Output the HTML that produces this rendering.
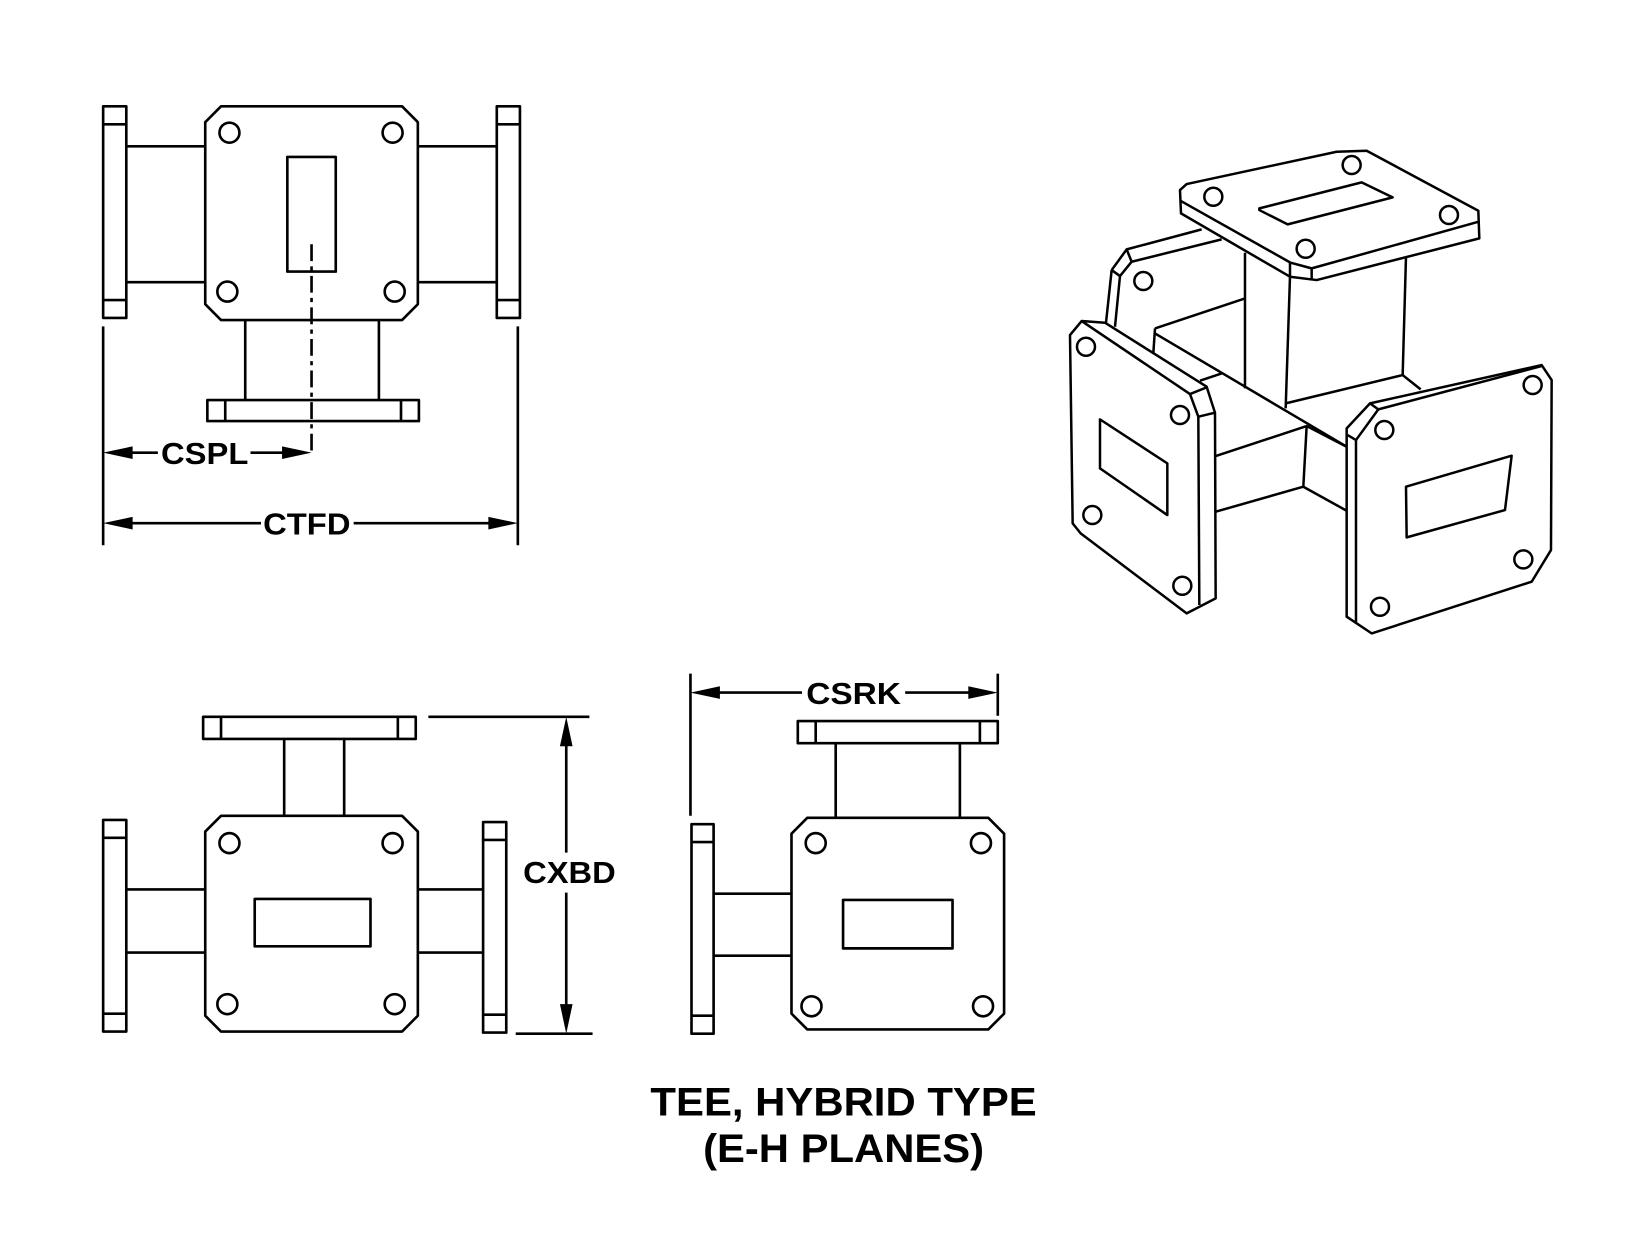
<!DOCTYPE html>
<html><head><meta charset="utf-8"><style>html,body{margin:0;padding:0;background:#fff}svg{display:block}</style></head>
<body>
<svg width="1650" height="1244" viewBox="0 0 1552 1170" xmlns="http://www.w3.org/2000/svg">
<g transform="scale(0.99)">
<g fill="none" stroke="#000" stroke-width="2.5" stroke-linejoin="round">
<!-- top-left view -->
<rect x="98" y="101" width="22" height="201"/><line x1="98" y1="118" x2="120" y2="118"/><line x1="98" y1="285" x2="120" y2="285"/>
<line x1="120" y1="139" x2="195" y2="139"/><line x1="120" y1="268" x2="195" y2="268"/>
<polygon points="210,101 382,101 397,116 397,289 382,304 210,304 195,289 195,116"/>
<circle cx="218" cy="126" r="9.5"/><circle cx="373" cy="126" r="9.5"/><circle cx="216" cy="277" r="9.5"/><circle cx="375" cy="277" r="9.5"/>
<rect x="273" y="149" width="46" height="109"/>
<line x1="296" y1="232" x2="296" y2="432" stroke-dasharray="16,5,4,5"/>
<line x1="397" y1="139" x2="472" y2="139"/><line x1="397" y1="268" x2="472" y2="268"/>
<rect x="472" y="101" width="22" height="201"/><line x1="472" y1="118" x2="494" y2="118"/><line x1="472" y1="285" x2="494" y2="285"/>
<line x1="233" y1="304" x2="233" y2="380"/><line x1="360" y1="304" x2="360" y2="380"/>
<rect x="197" y="380" width="201" height="20"/><line x1="214" y1="380" x2="214" y2="400"/><line x1="381" y1="380" x2="381" y2="400"/>
<line x1="98" y1="310" x2="98" y2="518"/><line x1="492" y1="310" x2="492" y2="518"/>
<line x1="110" y1="430" x2="150" y2="430"/><line x1="238" y1="430" x2="284" y2="430"/>
<line x1="110" y1="497" x2="248" y2="497"/><line x1="336" y1="497" x2="480" y2="497"/>
<!-- bottom-left view -->
<rect x="193" y="681" width="202" height="21"/><line x1="210" y1="681" x2="210" y2="702"/><line x1="378" y1="681" x2="378" y2="702"/>
<line x1="270" y1="702" x2="270" y2="775"/><line x1="327" y1="702" x2="327" y2="775"/>
<polygon points="210,775 382,775 397,790 397,965 382,980 210,980 195,965 195,790"/>
<circle cx="218" cy="801" r="9.5"/><circle cx="373" cy="801" r="9.5"/><circle cx="216" cy="954" r="9.5"/><circle cx="375" cy="954" r="9.5"/>
<rect x="242" y="854" width="110" height="45"/>
<rect x="98" y="779" width="22" height="201"/><line x1="98" y1="796" x2="120" y2="796"/><line x1="98" y1="963" x2="120" y2="963"/>
<line x1="120" y1="845" x2="195" y2="845"/><line x1="120" y1="905" x2="195" y2="905"/>
<rect x="459" y="781" width="22" height="200"/><line x1="459" y1="798" x2="481" y2="798"/><line x1="459" y1="964" x2="481" y2="964"/>
<line x1="397" y1="845" x2="459" y2="845"/><line x1="397" y1="905" x2="459" y2="905"/>
<line x1="407" y1="681" x2="560" y2="681"/><line x1="490" y1="982" x2="563" y2="982"/>
<line x1="538" y1="693" x2="538" y2="810"/><line x1="538" y1="848" x2="538" y2="970"/>
<!-- bottom-middle view -->
<line x1="656" y1="640" x2="656" y2="775"/><line x1="948" y1="640" x2="948" y2="680"/>
<line x1="668" y1="658" x2="762" y2="658"/><line x1="860" y1="658" x2="936" y2="658"/>
<rect x="758" y="685" width="190" height="21"/><line x1="775" y1="685" x2="775" y2="706"/><line x1="931" y1="685" x2="931" y2="706"/>
<line x1="794" y1="706" x2="794" y2="777"/><line x1="912" y1="706" x2="912" y2="777"/>
<polygon points="767,777 939,777 954,792 954,963 939,978 767,978 752,963 752,792"/>
<circle cx="775" cy="801" r="9.5"/><circle cx="932" cy="801" r="9.5"/><circle cx="771" cy="956" r="9.5"/><circle cx="934" cy="956" r="9.5"/>
<rect x="801" y="855" width="104" height="46"/>
<rect x="657" y="783" width="21" height="199"/><line x1="657" y1="800" x2="678" y2="800"/><line x1="657" y1="965" x2="678" y2="965"/>
<line x1="678" y1="849" x2="752" y2="849"/><line x1="678" y1="908" x2="752" y2="908"/>
</g>
<g fill="#000">
<polygon points="98,430 126,424 126,436"/><polygon points="296,430 268,424 268,436"/>
<polygon points="98,497 126,491 126,503"/><polygon points="492,497 464,491 464,503"/>
<polygon points="538,681 532,709 544,709"/><polygon points="538,982 532,954 544,954"/>
<polygon points="656,658 684,652 684,664"/><polygon points="948,658 920,652 920,664"/>
</g>
<g font-family="Liberation Sans, sans-serif" font-weight="bold" fill="#000" font-size="29">
<text x="153" y="441" textLength="83" lengthAdjust="spacingAndGlyphs">CSPL</text>
<text x="250" y="508" textLength="83" lengthAdjust="spacingAndGlyphs">CTFD</text>
<text x="497" y="839" textLength="88" lengthAdjust="spacingAndGlyphs">CXBD</text>
<text x="766" y="669" textLength="90" lengthAdjust="spacingAndGlyphs">CSRK</text>
<text x="618" y="1060" font-size="38" textLength="367" lengthAdjust="spacingAndGlyphs">TEE, HYBRID TYPE</text>
<text x="668" y="1104" font-size="38" textLength="267" lengthAdjust="spacingAndGlyphs">(E-H PLANES)</text>
</g>
</g>
<!-- isometric -->
<g transform="scale(0.9406) translate(1050 140) scale(0.33333)" fill="none" stroke="#000" stroke-width="7.5" stroke-linejoin="round">
<line x1="455" y1="268" x2="230" y2="328"/><polyline points="185,390 230,328 245,365 515,298"/>
<polyline points="185,390 168,548"/><polyline points="210,408 195,560"/><line x1="185" y1="390" x2="210" y2="408"/><line x1="245" y1="365" x2="210" y2="408"/>
<circle cx="280" cy="423" r="27"/>
<polyline points="585,338 585,745"/><polyline points="720,410 707,805"/><polyline points="1068,350 1058,705"/>
<polyline points="707,790 1058,705 1112,748"/>
<polyline points="315,565 585,475"/><polyline points="315,565 310,640"/>
<polyline points="315,580 890,920"/>
<polygon points="390,150 410,132 860,35 950,32 1285,212 1288,295 800,420 720,410 393,220" fill="#fff"/>
<polyline points="393,183 722,368 785,385 1286,245"/>
<line x1="720" y1="368" x2="720" y2="410"/><line x1="785" y1="385" x2="785" y2="418"/>
<polygon points="628,205 935,127 1028,172 713,253 628,210"/>
<circle cx="490" cy="170" r="27"/><circle cx="905" cy="75" r="27"/><circle cx="1197" cy="225" r="27"/><circle cx="767" cy="326" r="27"/>
<polyline points="497,948 770,858 760,1040 497,1115"/><line x1="760" y1="1040" x2="890" y2="1112"/><line x1="770" y1="858" x2="890" y2="920"/>
<line x1="450" y1="722" x2="515" y2="700"/>
<polygon points="95,543 165,548 470,740 495,818 497,1375 410,1420 92,1180 68,1150 60,585" fill="#fff"/>
<polyline points="95,543 420,762 445,830 448,1395"/><line x1="420" y1="762" x2="470" y2="742"/><line x1="445" y1="830" x2="495" y2="818"/>
<polygon points="150,838 352,970 352,1125 150,985"/>
<circle cx="108" cy="620" r="27"/><circle cx="390" cy="825" r="27"/><circle cx="127" cy="1125" r="27"/><circle cx="397" cy="1337" r="27"/>
<polygon points="890,865 960,790 1475,675 1505,720 1503,1230 1445,1325 965,1480 890,1430" fill="#fff"/>
<polyline points="893,885 918,900 918,1450"/><polyline points="918,900 985,808 1475,678"/><line x1="960" y1="790" x2="985" y2="808"/>
<polygon points="1068,1040 1385,947 1365,1110 1070,1192"/>
<circle cx="1448" cy="735" r="27"/><circle cx="1003" cy="870" r="27"/><circle cx="1420" cy="1258" r="27"/><circle cx="990" cy="1400" r="27"/>
</g>
</svg>
</body></html>
